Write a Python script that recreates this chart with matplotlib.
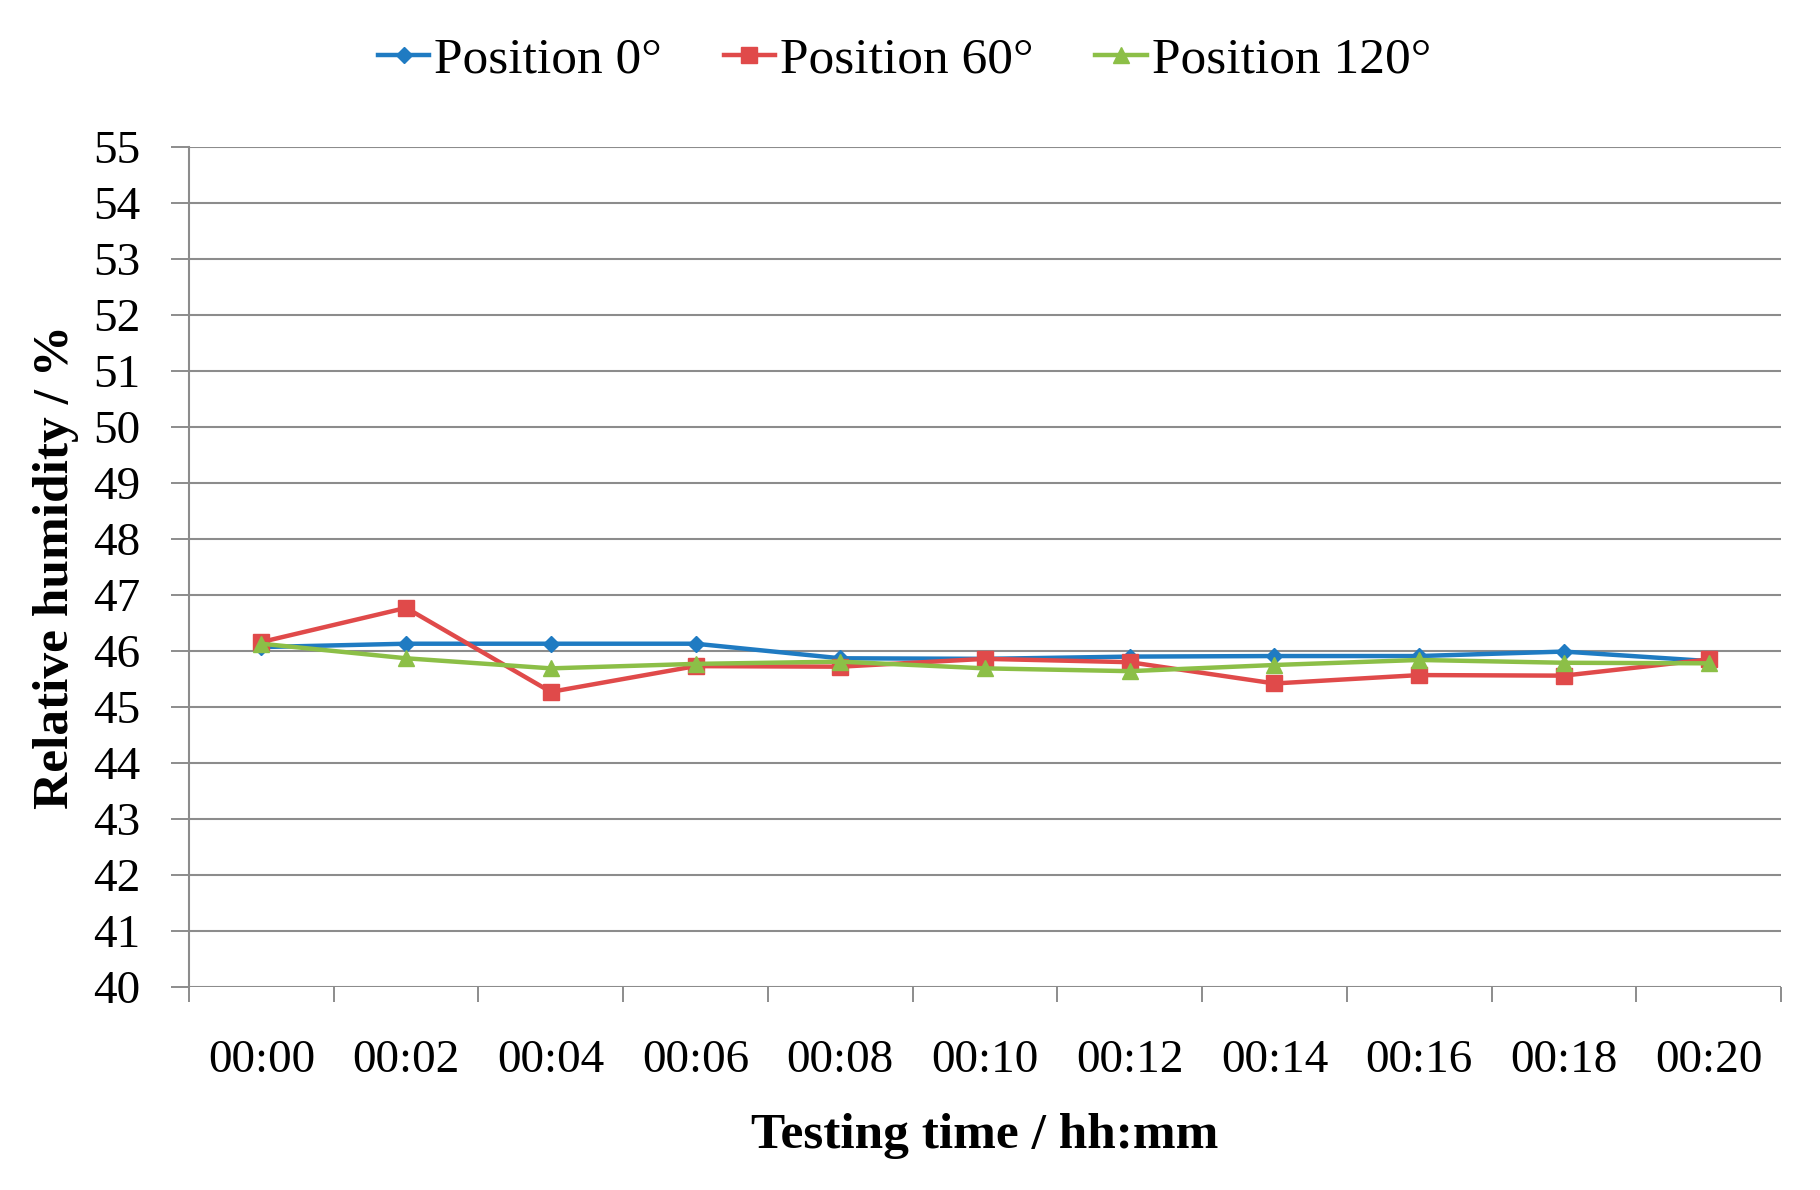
import numpy as np
import matplotlib.pyplot as plt

times = ["00:00", "00:02", "00:04", "00:06", "00:08", "00:10",
         "00:12", "00:14", "00:16", "00:18", "00:20"]
pos_0 = [46.07, 46.13, 46.13, 46.13, 45.87, 45.86, 45.90, 45.91, 45.91, 45.99, 45.82]
pos_60 = [46.16, 46.77, 45.27, 45.73, 45.72, 45.86, 45.80, 45.42, 45.57, 45.56, 45.85]
pos_120 = [46.13, 45.87, 45.69, 45.77, 45.81, 45.69, 45.64, 45.75, 45.84, 45.79, 45.78]

plt.rcParams['font.family'] = ['Liberation Serif', 'DejaVu Serif']

fig = plt.figure(figsize=(18.2, 11.9), dpi=100)
ax = fig.add_axes([189 / 1820, 1 - 987 / 1190, (1781 - 189) / 1820, (987 - 147) / 1190])

x = np.arange(len(times))
ax.plot(x, pos_0, color='#1f7bc2', lw=3.2, marker='D', ms=8, label='Position 0°')
ax.plot(x, pos_60, color='#e04a4a', lw=3.2, marker='s', ms=11, label='Position 60°')
ax.plot(x, pos_120, color='#8cbf47', lw=3.2, marker='^', ms=11, label='Position 120°')

ax.set_xlim(-0.5, len(times) - 0.5)
ax.set_ylim(40, 55)
ax.set_yticks(np.arange(40, 56, 1))
ax.set_xticks(x)
ax.set_xticklabels(times)
ax.set_xticks(np.arange(-0.5, len(times), 1), minor=True)
ax.tick_params(axis='x', which='major', length=0, pad=38, labelsize=34)
ax.tick_params(axis='x', which='minor', length=11, width=1.4, color='#8c8c8c')
ax.tick_params(axis='y', length=13, width=1.4, color='#8c8c8c', pad=22, labelsize=34)
ax.grid(axis='y', color='#8c8c8c', lw=1.5)
ax.set_axisbelow(True)

for s in ['top', 'right', 'bottom']:
    ax.spines[s].set_visible(False)
ax.spines['left'].set_color('#8c8c8c')
ax.spines['left'].set_linewidth(1.5)

ax.set_xlabel('Testing time / hh:mm', fontsize=37, fontweight='bold', labelpad=22)
ax.set_ylabel('Relative humidity / %', fontsize=37, fontweight='bold', labelpad=10)

fig.legend(loc='upper center', bbox_to_anchor=(0.497, 1.008), ncol=3, frameon=False,
           fontsize=37, handlelength=1.0, handletextpad=0.1, columnspacing=1.2)

fig.savefig('out.png', dpi=100)
